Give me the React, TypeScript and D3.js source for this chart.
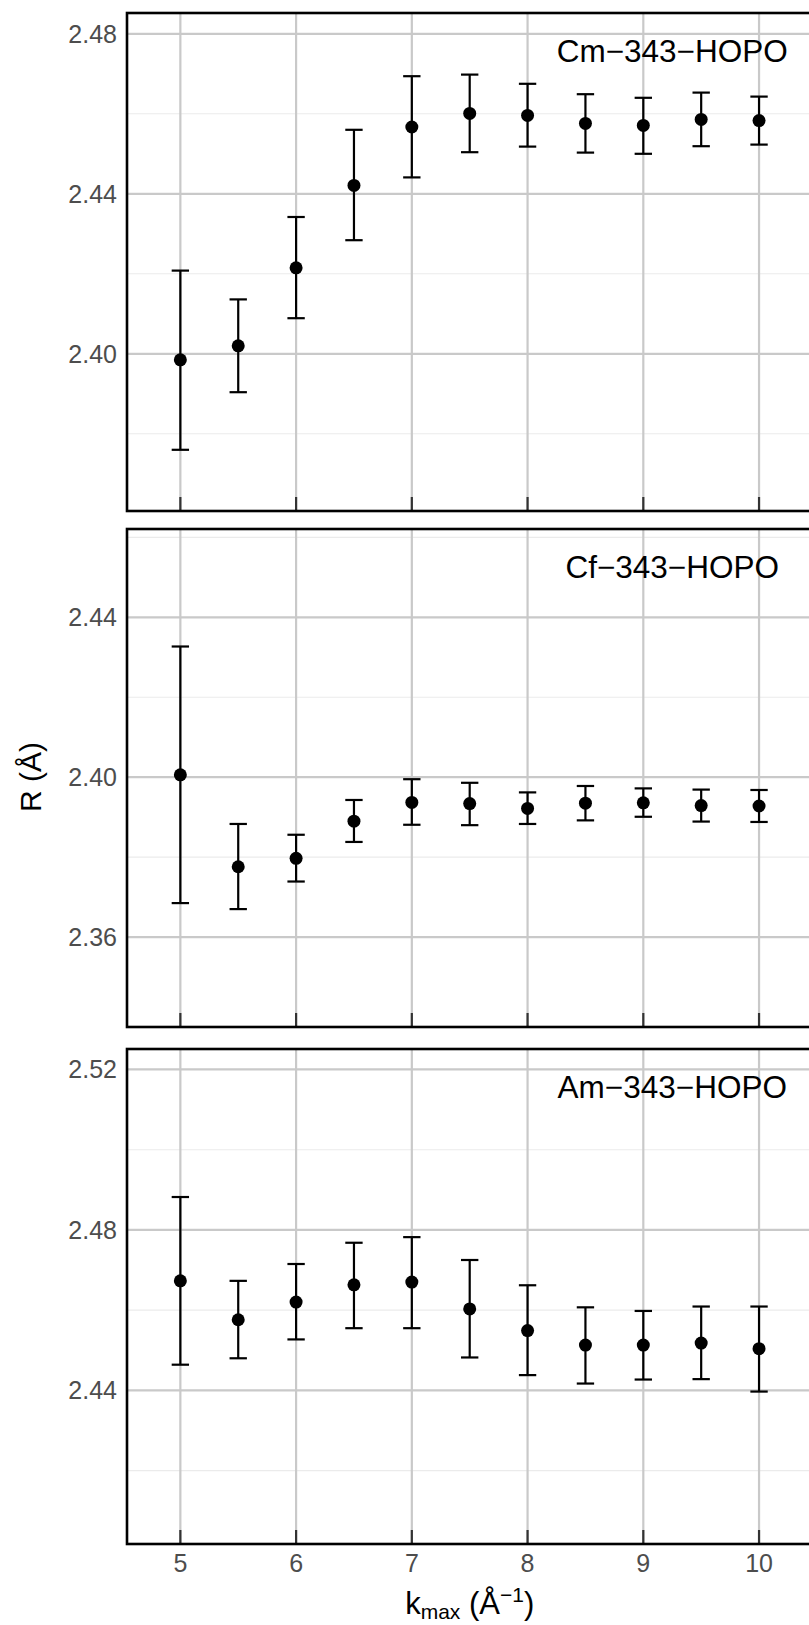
import React from "react";
import * as d3 from "d3";

// k range used for each fit
const kmax = [5, 5.5, 6, 6.5, 7, 7.5, 8, 8.5, 9, 9.5, 10];
const xTicks = [5, 6, 7, 8, 9, 10];

// Cm-343-HOPO
const cmR = [2.3985, 2.402, 2.4215, 2.4421, 2.4567, 2.4601, 2.4596, 2.4576, 2.4571, 2.4586, 2.4583];
const cmLow = [2.376, 2.3904, 2.4089, 2.4284, 2.4441, 2.4504, 2.4518, 2.4503, 2.45, 2.4519, 2.4523];
const cmHigh = [2.4208, 2.4136, 2.4342, 2.456, 2.4694, 2.4698, 2.4675, 2.4649, 2.464, 2.4653, 2.4643];

// Cf-343-HOPO
const cfR = [2.4006, 2.3776, 2.3797, 2.389, 2.3937, 2.3934, 2.3922, 2.3935, 2.3936, 2.3929, 2.3928];
const cfLow = [2.3685, 2.367, 2.3739, 2.3838, 2.3881, 2.388, 2.3883, 2.3892, 2.3901, 2.3889, 2.3888];
const cfHigh = [2.4327, 2.3883, 2.3856, 2.3943, 2.3995, 2.3986, 2.3962, 2.3978, 2.3972, 2.3969, 2.3968];

// Am-343-HOPO
const amR = [2.4673, 2.4576, 2.462, 2.4663, 2.467, 2.4603, 2.4549, 2.4513, 2.4513, 2.4518, 2.4504];
const amLow = [2.4464, 2.448, 2.4527, 2.4555, 2.4555, 2.4482, 2.4438, 2.4417, 2.4427, 2.4428, 2.4397];
const amHigh = [2.4882, 2.4673, 2.4715, 2.4768, 2.4782, 2.4725, 2.4662, 2.4607, 2.4598, 2.4609, 2.4609];

const panelNames = ["Cm\u2212343\u2212HOPO", "Cf\u2212343\u2212HOPO", "Am\u2212343\u2212HOPO"];
const yMajor = [[2.4, 2.44, 2.48], [2.36, 2.4, 2.44], [2.44, 2.48, 2.52]];
const yMinor = [[2.38, 2.42, 2.46], [2.38, 2.42, 2.46], [2.42, 2.46, 2.5]];
const yDomains = [[2.3607, 2.4852], [2.3375, 2.4621], [2.4017, 2.5251]];

const series = [
  { r: cmR, lo: cmLow, hi: cmHigh },
  { r: cfR, lo: cfLow, hi: cfHigh },
  { r: amR, lo: amLow, hi: amHigh },
];

const W = 809;
const H = 1625;
const left = 127;
const right = 812.4;
const panelTop = [13, 529, 1049];
const panelBottom = [511, 1027, 1544];
const font = "'Liberation Sans', Arial, Helvetica, sans-serif";

const x = d3.scaleLinear().domain([4.539, 10.461]).range([left, right]);

function Panel({ i }: { i: number }) {
  const top = panelTop[i];
  const bottom = panelBottom[i];
  const y = d3.scaleLinear().domain(yDomains[i]).range([bottom, top]);
  const s = series[i];
  const fmt = d3.format(".2f");
  const cap = 0.075;

  return (
    <g>
      {yMinor[i].map((v) => (
        <line key={"mi" + v} x1={left} x2={right} y1={y(v)} y2={y(v)} stroke="#ebebeb" strokeWidth={1.1} />
      ))}
      {yMajor[i].map((v) => (
        <line key={"ma" + v} x1={left} x2={right} y1={y(v)} y2={y(v)} stroke="#c9c9c9" strokeWidth={2.2} />
      ))}
      {xTicks.map((v) => (
        <line key={"vx" + v} x1={x(v)} x2={x(v)} y1={top} y2={bottom} stroke="#c9c9c9" strokeWidth={2.2} />
      ))}
      {xTicks.map((v) => (
        <line key={"tk" + v} x1={x(v)} x2={x(v)} y1={bottom - 14} y2={bottom} stroke="#333333" strokeWidth={2.2} />
      ))}
      {yMajor[i].map((v) => (
        <text
          key={"yl" + v}
          x={117}
          y={y(v)}
          textAnchor="end"
          dominantBaseline="central"
          fontSize={25}
          fill="#4d4d4d"
          fontFamily={font}
        >
          {fmt(v)}
        </text>
      ))}
      {kmax.map((k, j) => (
        <g key={"pt" + k}>
          <line x1={x(k)} x2={x(k)} y1={y(s.lo[j])} y2={y(s.hi[j])} stroke="#000" strokeWidth={2.2} />
          <line x1={x(k - cap)} x2={x(k + cap)} y1={y(s.lo[j])} y2={y(s.lo[j])} stroke="#000" strokeWidth={2.2} />
          <line x1={x(k - cap)} x2={x(k + cap)} y1={y(s.hi[j])} y2={y(s.hi[j])} stroke="#000" strokeWidth={2.2} />
          <circle cx={x(k)} cy={y(s.r[j])} r={6.5} fill="#000" />
        </g>
      ))}
      <text
        x={x(9.25)}
        y={top + 38}
        textAnchor="middle"
        dominantBaseline="central"
        fontSize={31.5}
        fill="#000"
        fontFamily={font}
      >
        {panelNames[i]}
      </text>
      <rect x={left} y={top} width={right - left} height={bottom - top} fill="none" stroke="#000" strokeWidth={2.6} />
    </g>
  );
}

export default function App() {
  return (
    <svg width={W} height={H} style={{ position: "absolute", left: 0, top: 0, background: "#fff" }}>
      <rect x={0} y={0} width={W} height={H} fill="#fff" />
      {[0, 1, 2].map((i) => (
        <Panel key={i} i={i} />
      ))}
      {xTicks.map((v) => (
        <text
          key={"xl" + v}
          x={x(v)}
          y={1563}
          textAnchor="middle"
          dominantBaseline="central"
          fontSize={25}
          fill="#4d4d4d"
          fontFamily={font}
        >
          {v}
        </text>
      ))}
      <text
        transform="translate(30,777) rotate(-90)"
        textAnchor="middle"
        dominantBaseline="central"
        fontSize={30}
        fill="#000"
        fontFamily={font}
      >
        R (Å)
      </text>
      <text x={(left + right) / 2} y={1614} textAnchor="middle" fontSize={31} fill="#000" fontFamily={font}>
        k
        <tspan fontSize={21} dy={5}>max</tspan>
        <tspan dy={-5}> (Å</tspan>
        <tspan fontSize={21} dy={-12}>{"\u22121"}</tspan>
        <tspan dy={12}>)</tspan>
      </text>
    </svg>
  );
}
